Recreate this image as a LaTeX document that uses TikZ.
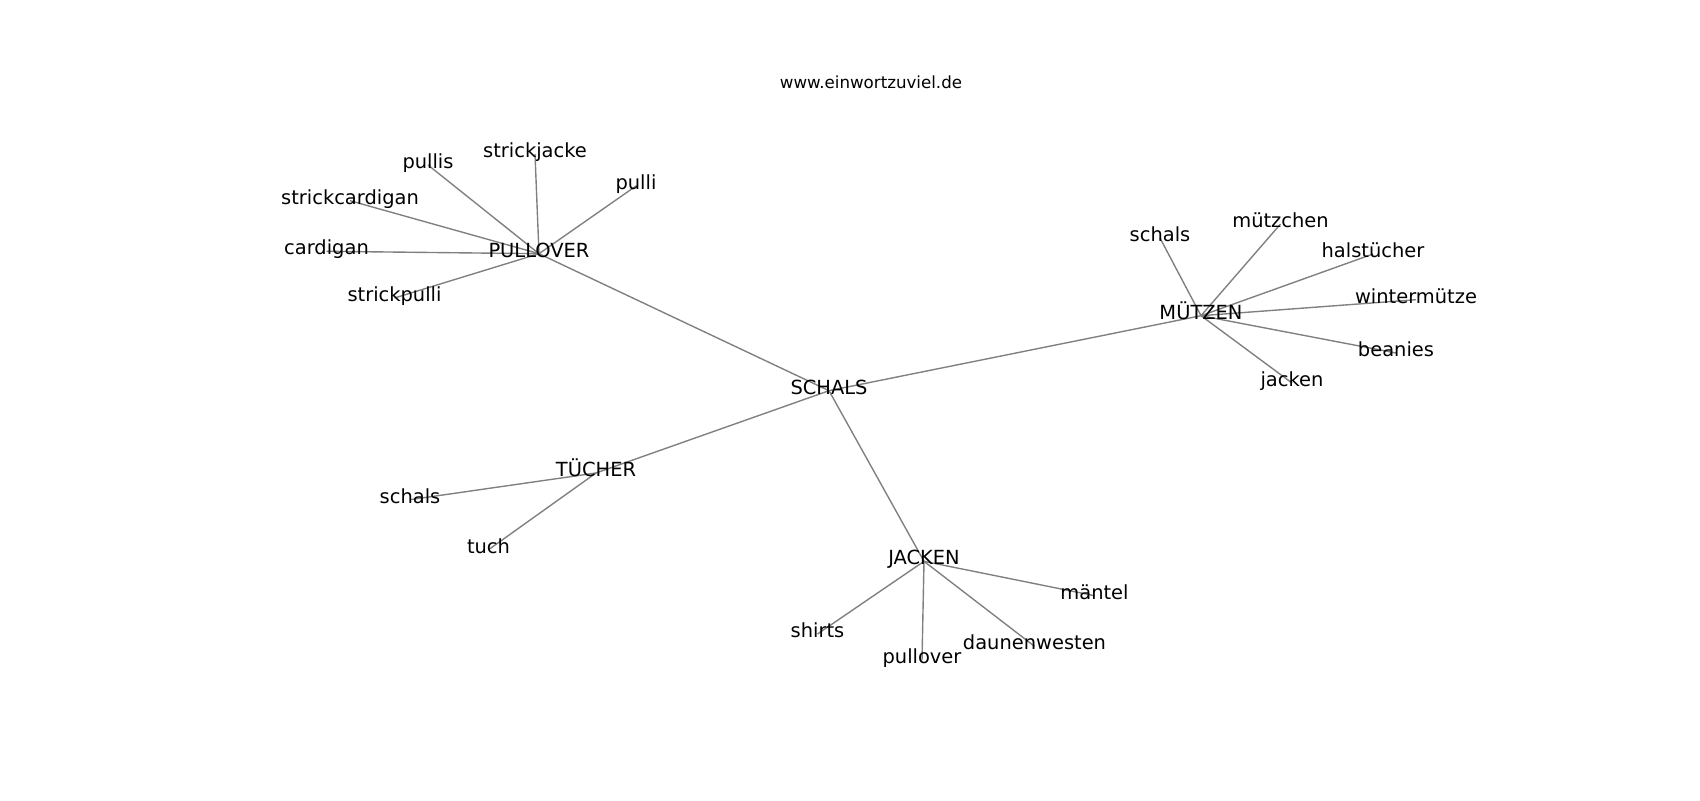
\documentclass[tikz,border=0pt]{standalone}
\usepackage{fontspec}
\setmainfont{DejaVu Sans}
\usetikzlibrary{backgrounds}
\begin{document}
\begin{tikzpicture}[x=0.72pt,y=-0.72pt,
        wort/.style={font=\fontsize{14}{16}\selectfont,inner sep=0pt,text height=0.76em,text depth=0.24em},
        kante/.style={draw=black!50,line width=1pt}]
        \useasboundingbox (0,0) rectangle (1700,800);

        \node[anchor=base,inner sep=0pt,font=\fontsize{12}{14}\selectfont] (titel) at (871,88.5) {www.einwortzuviel.de};

        % Mitte
        \node[wort] (schalsM) at (829,390.7) {SCHALS};

        % PULLOVER
        \node[wort] (pullover) at (539,253.7) {PULLOVER};
        \node[wort] (strickjacke) at (535,154) {strickjacke};
        \node[wort] (pullis) at (428,165) {pullis};
        \node[wort] (pulli) at (636,186) {pulli};
        \node[wort] (strickcardigan) at (350,200.7) {strickcardigan};
        \node[wort] (cardigan) at (326.5,251.3) {cardigan};
        \node[wort] (strickpulli) at (394.5,298) {strickpulli};

        % MÜTZEN
        \node[wort] (muetzen) at (1201,315.7) {MÜTZEN};
        \node[wort] (schalsA) at (1160,238) {schals};
        \node[wort] (muetzchen) at (1280.5,224) {mützchen};
        \node[wort] (halstuecher) at (1373,254) {halstücher};
        \node[wort] (wintermuetze) at (1416,299.7) {wintermütze};
        \node[wort] (beanies) at (1396,353) {beanies};
        \node[wort] (jackenK) at (1292,383) {jacken};

        % TÜCHER
        \node[wort] (tuecher) at (596,473) {TÜCHER};
        \node[wort] (schalsB) at (410,499.7) {schals};
        \node[wort] (tuch) at (488.5,549.7) {tuch};

        % JACKEN
        \node[wort] (jacken) at (924,561.3) {JACKEN};
        \node[wort] (maentel) at (1094.5,595.7) {mäntel};
        \node[wort] (shirts) at (817.5,634) {shirts};
        \node[wort] (pulloverK) at (922,660.3) {pullover};
        \node[wort] (daunenwesten) at (1034.5,646.3) {daunenwesten};

        \begin{scope}[on background layer]
        \foreach \a/\b in {schalsM/pullover,schalsM/muetzen,schalsM/tuecher,schalsM/jacken,
                pullover/strickjacke,pullover/pullis,pullover/pulli,pullover/strickcardigan,
                pullover/cardigan,pullover/strickpulli,
                muetzen/schalsA,muetzen/muetzchen,muetzen/halstuecher,muetzen/wintermuetze,
                muetzen/beanies,muetzen/jackenK,
                tuecher/schalsB,tuecher/tuch,
                jacken/maentel,jacken/shirts,jacken/pulloverK,jacken/daunenwesten}
            \draw[kante] (\a.center) -- (\b.center);
        \end{scope}
\end{tikzpicture}
\end{document}
